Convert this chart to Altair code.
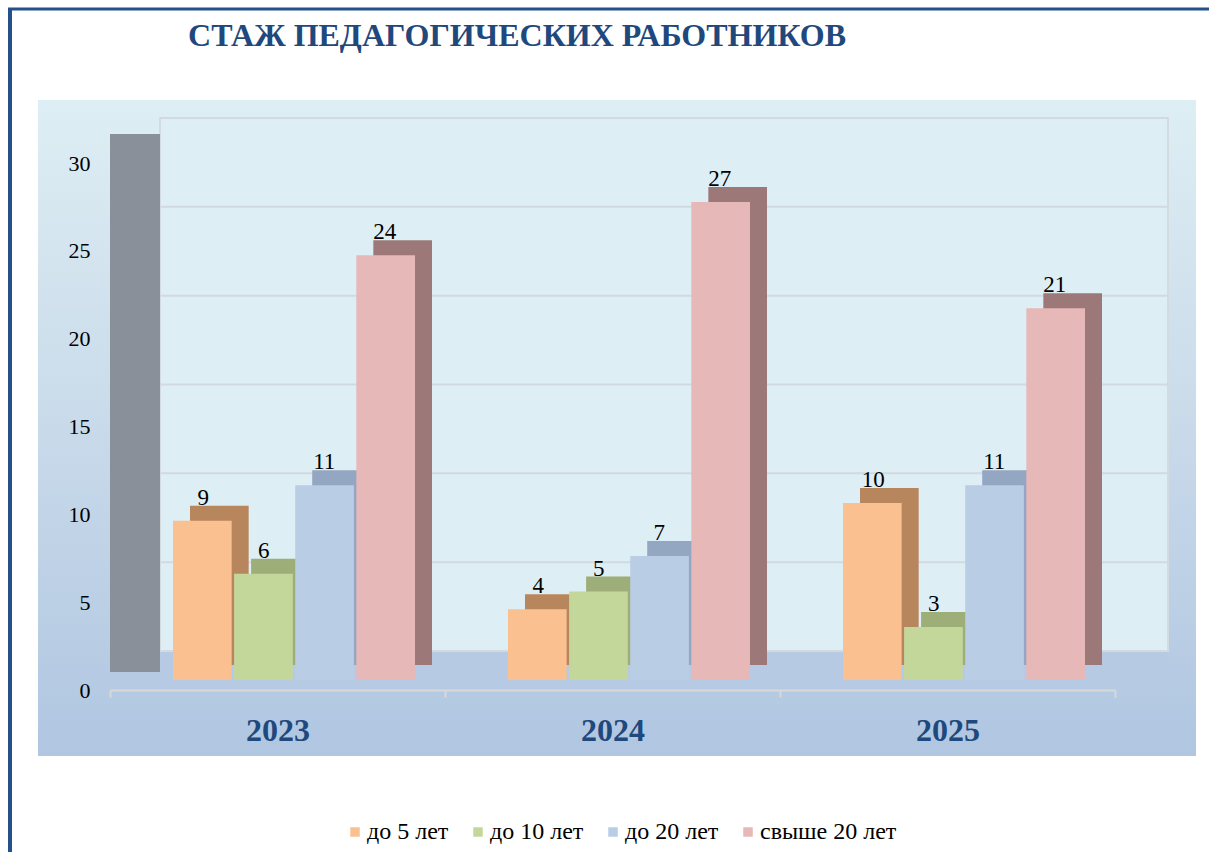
import altair as alt
import pandas as pd

# ---- data ----
years = ["2023", "2024", "2025"]
categories = ["до 5 лет", "до 10 лет", "до 20 лет", "свыше 20 лет"]
values_5 = [9, 4, 10]
values_10 = [6, 5, 3]
values_20 = [11, 7, 11]
values_over20 = [24, 27, 21]
y_ticks = [0, 5, 10, 15, 20, 25, 30]
title_text = "СТАЖ ПЕДАГОГИЧЕСКИХ РАБОТНИКОВ"

series = [values_5, values_10, values_20, values_over20]
rows = []
for cat, vals in zip(categories, series):
    for yr, v in zip(years, vals):
        rows.append({"year": yr, "cat": cat, "value": v})
df = pd.DataFrame(rows)
ticks_df = pd.DataFrame({"v": y_ticks})
one = pd.DataFrame({"t": [title_text]})

# ---- styling ----
front_colors = ["#FAC090", "#C4D79B", "#B9CDE5", "#E6B8B7"]
side_colors = ["#B8865C", "#9DAE78", "#93A6C2", "#9C7878"]
FONT = "Liberation Serif"
DARK_BLUE = "#1F497D"

x_enc = alt.X(
    "year:N",
    sort=years,
    scale=alt.Scale(paddingInner=0, paddingOuter=0),
    axis=alt.Axis(
        title=None, labelAngle=0, labelFont=FONT, labelFontSize=32,
        labelFontWeight="bold", labelColor=DARK_BLUE, labelPadding=18,
        domainColor="#D9D9D9", domainWidth=2, tickColor="#D9D9D9",
        tickWidth=2, tickSize=7, tickBand="extent", grid=False, zindex=2,
    ),
)

bg_grad = alt.LinearGradient(
    gradient="linear", x1=0, y1=0, x2=0, y2=1,
    stops=[alt.GradientStop(offset=0, color="#DDEEF4"),
           alt.GradientStop(offset=0.45, color="#CBDCEB"),
           alt.GradientStop(offset=1, color="#B0C6E1")],
)

background = alt.Chart(one).mark_rect(fill=bg_grad).encode(
    x=alt.value(-72), x2=alt.value(1086), y=alt.value(-60), y2=alt.value(596)
)
back_wall = alt.Chart(one).mark_rect(fill="#DDEEF4", stroke="#D3DAE0", strokeWidth=2).encode(
    x=alt.value(50), x2=alt.value(1058), y=alt.value(-42), y2=alt.value(491)
)
floor = alt.Chart(one).mark_rect(fill="#B6CAE3").encode(
    x=alt.value(0), x2=alt.value(1058), y=alt.value(491), y2=alt.value(530)
)
left_wall = alt.Chart(one).mark_rect(fill="#8A9099").encode(
    x=alt.value(0), x2=alt.value(50), y=alt.value(-26), y2=alt.value(512)
)
grid = alt.Chart(ticks_df).mark_rule(color="#D3D9DE", strokeWidth=2).encode(
    y=alt.Y("v:Q", scale=alt.Scale(domain=[0, 30], range=[491, -42]), axis=None),
    x=alt.value(50), x2=alt.value(1058),
)
y_axis_layer = alt.Chart(ticks_df).mark_rule(opacity=0).encode(
    y=alt.Y("v:Q", scale=alt.Scale(domain=[0, 30], range=[530, 3]),
            axis=alt.Axis(title=None, values=y_ticks, labelFont=FONT, labelFontSize=22,
                          labelColor="#000000", labelPadding=20, domain=False,
                          ticks=False, grid=False, zindex=2)),
    x=alt.value(0),
)

shadow = alt.Chart(df).mark_bar().encode(
    x=x_enc,
    xOffset=alt.XOffset("cat:N", sort=categories,
                        scale=alt.Scale(range=[80, 322], paddingInner=0.04)),
    y=alt.Y("value:Q", scale=alt.Scale(domain=[0, 30], range=[505, -26]), axis=None),
    color=alt.Color("cat:N", sort=categories,
                    scale=alt.Scale(domain=categories, range=side_colors), legend=None),
)

front = alt.Chart(df).mark_bar().encode(
    x=x_enc,
    xOffset=alt.XOffset("cat:N", sort=categories,
                        scale=alt.Scale(range=[63, 305], paddingInner=0.04)),
    y=alt.Y("value:Q", scale=alt.Scale(domain=[0, 30], range=[520, -11]), axis=None),
    color=alt.Color("cat:N", sort=categories,
                    scale=alt.Scale(domain=categories, range=front_colors),
                    legend=alt.Legend(title=None, orient="none", direction="horizontal",
                                      legendX=233, legendY=660, symbolType="square",
                                      symbolSize=90, symbolStrokeWidth=0,
                                      labelFont=FONT, labelFontSize=24,
                                      labelColor="#000000", labelOffset=0,
                                      columnPadding=17)),
)

labels = alt.Chart(df).mark_text(font=FONT, fontSize=23, color="#000000",
                                 baseline="alphabetic", dy=-16).encode(
    x=x_enc,
    xOffset=alt.XOffset("cat:N", sort=categories,
                        scale=alt.Scale(range=[63, 305], paddingInner=0.04)),
    y=alt.Y("value:Q", scale=alt.Scale(domain=[0, 30], range=[520, -11]), axis=None),
    text=alt.Text("value:Q"),
)

title = alt.Chart(one).mark_text(font=FONT, fontSize=32, fontWeight="bold",
                                 color=DARK_BLUE, baseline="alphabetic", align="center").encode(
    x=alt.value(407), y=alt.value(-114), text="t:N"
)

border_left = alt.Chart(one).mark_rule(color="#25508A", strokeWidth=4).encode(
    x=alt.value(-100), y=alt.value(-151), y2=alt.value(692)
)
border_top = alt.Chart(one).mark_rule(color="#25508A", strokeWidth=3).encode(
    x=alt.value(-102), x2=alt.value(1099), y=alt.value(-151)
)

chart = alt.layer(
    background, back_wall, floor, left_wall, grid, y_axis_layer, shadow, front, labels,
    title, border_left, border_top,
).resolve_scale(
    y="independent", xOffset="independent", color="independent"
).properties(
    width=1005, height=530,
    autosize=alt.AutoSizeParams(type="none"),
    padding={"left": 110, "top": 160, "right": 94, "bottom": 162},
    background="#FFFFFF",
).configure_view(stroke=None)

chart.save("out.html", embed_options={"renderer": "svg", "actions": False})
